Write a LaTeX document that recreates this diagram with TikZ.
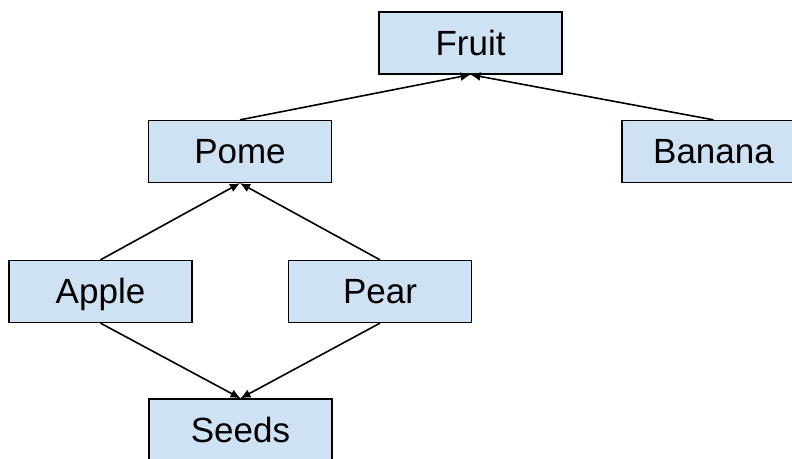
\documentclass[tikz,border=0pt]{standalone}
\usepackage{fontspec}
\setmainfont{Liberation Sans}
\usepackage{xcolor}
\usetikzlibrary{arrows.meta}

\definecolor{boxblue}{HTML}{CFE2F3}

\begin{document}
\begin{tikzpicture}[x=0.5pt,y=-0.5pt,
                box/.style={draw,fill=boxblue,line width=0.65pt,minimum width=91.5pt,minimum height=31pt,inner sep=0pt,text height=12.5pt,text depth=0pt,font=\fontsize{17.5}{21}\selectfont},
                link/.style={-{Latex[length=5pt,width=4.5pt]},line width=0.8pt}]
                \useasboundingbox (0,0) rectangle (792,459);

                \node (fruit) at (470.5,43) [box] {Fruit};
                \node (pome) at (240,151.5) [box] {Pome};
                \node (banana) at (713.5,151.5) [box] {Banana};
                \node (apple) at (100.5,291.5) [box] {Apple};
                \node (pear) at (380,291.5) [box] {Pear};
                \node (seeds) at (240.5,430) [box] {Seeds};

                \draw[link] (pome.north) -- (fruit.south);
                \draw[link] (banana.north) -- (fruit.south);
                \draw[link] (apple.north) -- (pome.south);
                \draw[link] (pear.north) -- (pome.south);
                \draw[link] (apple.south) -- (seeds.north);
                \draw[link] (pear.south) -- (seeds.north);

            \end{tikzpicture}
\end{document}
